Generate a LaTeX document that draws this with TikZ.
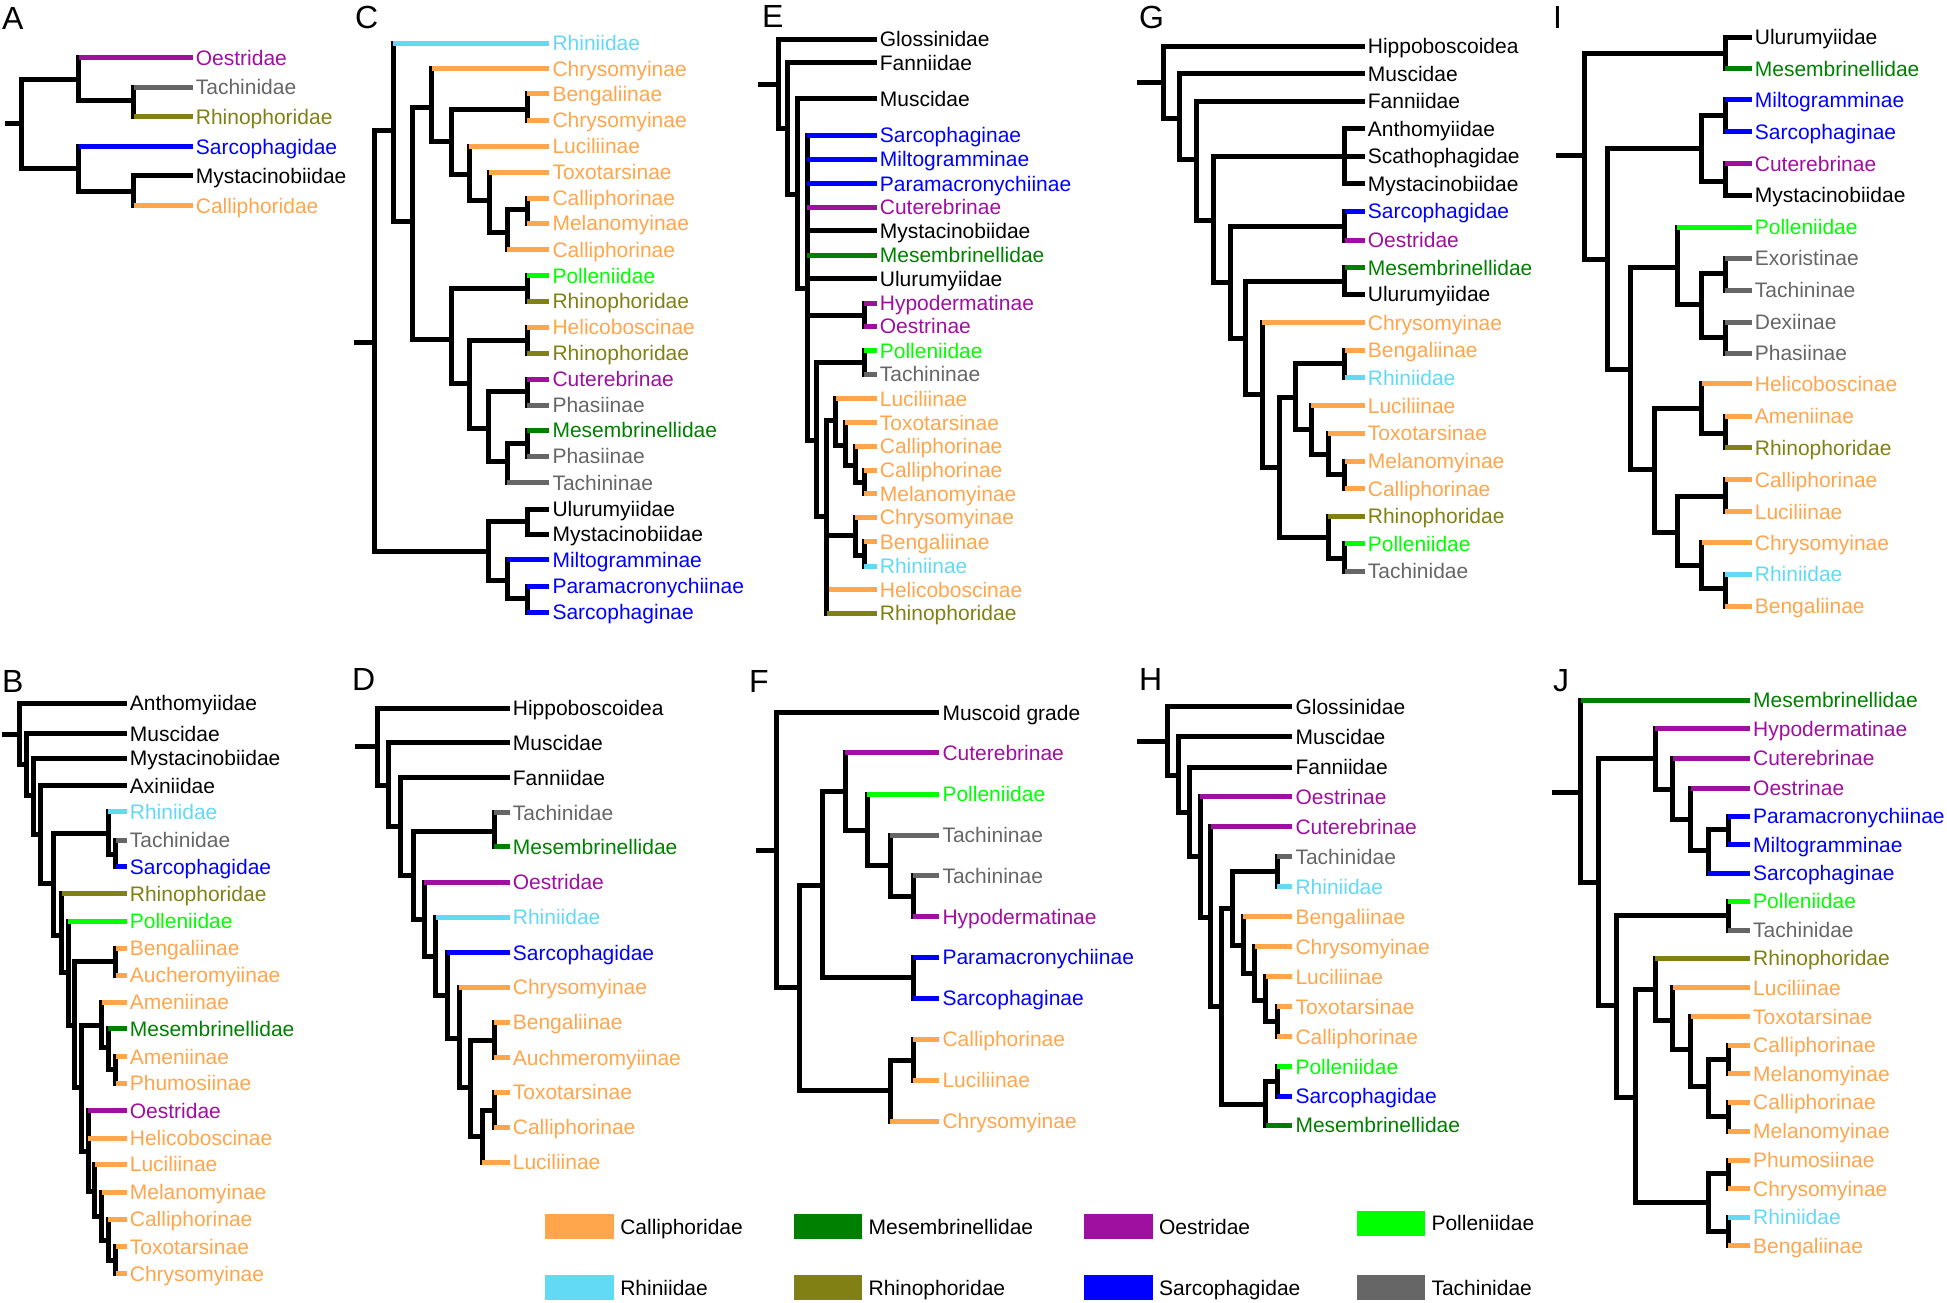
\documentclass[tikz,border=0pt]{standalone}
\usepackage{fontspec}
\setmainfont{Liberation Sans}
\definecolor{calli}{RGB}{255,166,77}
\definecolor{mesem}{RGB}{0,128,0}
\definecolor{oestr}{RGB}{160,16,160}
\definecolor{polle}{RGB}{0,255,0}
\definecolor{rhini}{RGB}{98,217,245}
\definecolor{rhino}{RGB}{128,128,21}
\definecolor{sarco}{RGB}{0,0,255}
\definecolor{tachi}{RGB}{102,102,102}
\tikzset{
  br/.style={line width=5pt, black},
  tip/.style={anchor=west, inner xsep=3pt, inner ysep=0pt, text height=15pt, text depth=0pt, font=\fontsize{21pt}{24pt}\selectfont},
  plabel/.style={anchor=base west, inner sep=0pt, font=\fontsize{32pt}{36pt}\selectfont},
  swatch/.style={draw=none, minimum width=68.6pt, minimum height=25pt, inner sep=0pt},
  legtext/.style={anchor=west, inner xsep=6pt, inner ysep=0pt, text height=15pt, text depth=0pt, font=\fontsize{21pt}{24pt}\selectfont}
}
\newcommand\leaf[6]{%
  \node[tip,text=#5] (#2) at (#3,#4) {#6};
  \draw[br] (#1) |- (#2.west);
  \draw[br,#5] (#1 |- #2.west) -- (#2.west);}
\newcommand\en[2]{\draw[br] (#1) |- (#2);}
\begin{document}
\begin{tikzpicture}
\useasboundingbox (0pt,0pt) rectangle (1947pt,-1303pt);
\fill[white] (0pt,0pt) rectangle (1947pt,-1303pt);

% panel letters
\node[plabel] (LA) at (2pt,-30pt) {A};
\node[plabel] (LC) at (355pt,-29pt) {C};
\node[plabel] (LE) at (762pt,-28pt) {E};
\node[plabel] (LG) at (1139pt,-29pt) {G};
\node[plabel] (LI) at (1553pt,-29pt) {I};
\node[plabel] (LB) at (2pt,-692pt) {B};
\node[plabel] (LD) at (352pt,-690pt) {D};
\node[plabel] (LF) at (749pt,-692pt) {F};
\node[plabel] (LH) at (1139pt,-690pt) {H};
\node[plabel] (LJ) at (1553pt,-691pt) {J};

% ---------------- A
\begin{scope}[shift={(0pt,0pt)},x=0.33333pt,y=-0.33333pt]
\coordinate (aS) at (15,372);
\coordinate (aR) at (65,372);
\coordinate (aN1) at (237,238);
\coordinate (aN1a) at (402,303);
\coordinate (aN2) at (237,505);
\coordinate (aN2a) at (402,575);
\draw[br] (aS) -- (aR);
\en{aR}{aN1}\en{aR}{aN2}\en{aN1}{aN1a}\en{aN2}{aN2a}
\leaf{aN1}{a1}{578}{173}{oestr}{Oestridae}
\leaf{aN1a}{a2}{578}{262}{tachi}{Tachinidae}
\leaf{aN1a}{a3}{578}{350}{rhino}{Rhinophoridae}
\leaf{aN2}{a4}{578}{440}{sarco}{Sarcophagidae}
\leaf{aN2a}{a5}{578}{528}{black}{Mystacinobiidae}
\leaf{aN2a}{a6}{578}{618}{calli}{Calliphoridae}
\end{scope}

% ---------------- C
\begin{scope}[shift={(350pt,-20pt)},x=0.33333pt,y=-0.38903pt]
\coordinate (cS) at (12,828);
\coordinate (cR) at (72,828);
\coordinate (cN1) at (130,285);
\coordinate (cN2) at (188,518);
\coordinate (cN3) at (245,225);
\coordinate (cN4) at (303,312);
\coordinate (cN5) at (532,230);
\coordinate (cN6) at (358,398);
\coordinate (cN7) at (418,465);
\coordinate (cN8) at (472,545);
\coordinate (cN8a) at (532,488);
\coordinate (cN9) at (303,820);
\coordinate (cN10) at (532,690);
\coordinate (cN11) at (358,935);
\coordinate (cN12) at (532,823);
\coordinate (cN13) at (415,1050);
\coordinate (cN14) at (532,955);
\coordinate (cN15) at (472,1135);
\coordinate (cN16) at (532,1088);
\coordinate (cNL) at (415,1365);
\coordinate (cN17) at (532,1290);
\coordinate (cN18) at (472,1440);
\coordinate (cN19) at (532,1488);
\draw[br] (cS) -- (cR);
\en{cR}{cN1}\en{cR}{cNL}\en{cN1}{cN2}\en{cN2}{cN3}\en{cN2}{cN9}\en{cN3}{cN4}
\en{cN4}{cN5}\en{cN4}{cN6}\en{cN6}{cN7}\en{cN7}{cN8}\en{cN8}{cN8a}
\en{cN9}{cN10}\en{cN9}{cN11}\en{cN11}{cN12}\en{cN11}{cN13}\en{cN13}{cN14}
\en{cN13}{cN15}\en{cN15}{cN16}\en{cNL}{cN17}\en{cNL}{cN18}\en{cN18}{cN19}
\leaf{cN1}{c1}{598}{60}{rhini}{Rhiniidae}
\leaf{cN3}{c2}{598}{125}{calli}{Chrysomyinae}
\leaf{cN5}{c3}{598}{190}{calli}{Bengaliinae}
\leaf{cN5}{c4}{598}{258}{calli}{Chrysomyinae}
\leaf{cN6}{c5}{598}{325}{calli}{Luciliinae}
\leaf{cN7}{c6}{598}{392}{calli}{Toxotarsinae}
\leaf{cN8a}{c7}{598}{458}{calli}{Calliphorinae}
\leaf{cN8a}{c8}{598}{522}{calli}{Melanomyinae}
\leaf{cN8}{c9}{598}{590}{calli}{Calliphorinae}
\leaf{cN10}{c10}{598}{657}{polle}{Polleniidae}
\leaf{cN10}{c11}{598}{723}{rhino}{Rhinophoridae}
\leaf{cN12}{c12}{598}{790}{calli}{Helicoboscinae}
\leaf{cN12}{c13}{598}{857}{rhino}{Rhinophoridae}
\leaf{cN14}{c14}{598}{923}{oestr}{Cuterebrinae}
\leaf{cN14}{c15}{598}{990}{tachi}{Phasiinae}
\leaf{cN16}{c16}{598}{1055}{mesem}{Mesembrinellidae}
\leaf{cN16}{c17}{598}{1122}{tachi}{Phasiinae}
\leaf{cN15}{c18}{598}{1190}{tachi}{Tachininae}
\leaf{cN17}{c19}{598}{1257}{black}{Ulurumyiidae}
\leaf{cN17}{c20}{598}{1322}{black}{Mystacinobiidae}
\leaf{cN18}{c21}{598}{1388}{sarco}{Miltogramminae}
\leaf{cN19}{c22}{598}{1455}{sarco}{Paramacronychiinae}
\leaf{cN19}{c23}{598}{1522}{sarco}{Sarcophaginae}
\end{scope}

% ---------------- E
\begin{scope}[shift={(745pt,-15pt)},x=0.33333pt,y=-0.39031pt]
\coordinate (eS) at (38,178);
\coordinate (eR) at (100,178);
\coordinate (eN1) at (128,292);
\coordinate (eN2) at (158,460);
\coordinate (eN3) at (187,700);
\coordinate (eN4) at (358,770);
\coordinate (eN5) at (215,1090);
\coordinate (eN6) at (358,890);
\coordinate (eN7) at (245,1285);
\coordinate (eN8) at (272,1040);
\coordinate (eN9) at (300,1103);
\coordinate (eN10) at (330,1155);
\coordinate (eN11) at (358,1198);
\coordinate (eN12) at (330,1333);
\coordinate (eN13) at (358,1385);
\draw[br] (eS) -- (eR);
\en{eR}{eN1}\en{eN1}{eN2}\en{eN2}{eN3}\en{eN3}{eN4}\en{eN3}{eN5}\en{eN5}{eN6}
\en{eN5}{eN7}\en{eN7}{eN8}\en{eN8}{eN9}\en{eN9}{eN10}\en{eN10}{eN11}\en{eN7}{eN12}\en{eN12}{eN13}
\leaf{eR}{e1}{395}{62}{black}{Glossinidae}
\leaf{eN1}{e2}{395}{122}{black}{Fanniidae}
\leaf{eN2}{e3}{395}{215}{black}{Muscidae}
\leaf{eN3}{e4}{395}{308}{sarco}{Sarcophaginae}
\leaf{eN3}{e5}{395}{370}{sarco}{Miltogramminae}
\leaf{eN3}{e6}{395}{432}{sarco}{Paramacronychiinae}
\leaf{eN3}{e7}{395}{492}{oestr}{Cuterebrinae}
\leaf{eN3}{e8}{395}{553}{black}{Mystacinobiidae}
\leaf{eN3}{e9}{395}{615}{mesem}{Mesembrinellidae}
\leaf{eN3}{e10}{395}{676}{black}{Ulurumyiidae}
\leaf{eN4}{e11}{395}{738}{oestr}{Hypodermatinae}
\leaf{eN4}{e12}{395}{798}{oestr}{Oestrinae}
\leaf{eN6}{e13}{395}{860}{polle}{Polleniidae}
\leaf{eN6}{e14}{395}{920}{tachi}{Tachininae}
\leaf{eN8}{e15}{395}{983}{calli}{Luciliinae}
\leaf{eN9}{e16}{395}{1045}{calli}{Toxotarsinae}
\leaf{eN10}{e17}{395}{1105}{calli}{Calliphorinae}
\leaf{eN11}{e18}{395}{1166}{calli}{Calliphorinae}
\leaf{eN11}{e19}{395}{1227}{calli}{Melanomyinae}
\leaf{eN12}{e20}{395}{1287}{calli}{Chrysomyinae}
\leaf{eN13}{e21}{395}{1350}{calli}{Bengaliinae}
\leaf{eN13}{e22}{395}{1412}{rhini}{Rhiniinae}
\leaf{eN7}{e23}{395}{1473}{calli}{Helicoboscinae}
\leaf{eN7}{e24}{395}{1533}{rhino}{Rhinophoridae}
\end{scope}

% ---------------- G
\begin{scope}[shift={(1124pt,-20pt)},x=0.33333pt,y=-0.36671pt]
\coordinate (gS) at (40,170);
\coordinate (gR) at (118,170);
\coordinate (gN1) at (167,268);
\coordinate (gN2) at (218,380);
\coordinate (gN3) at (268,548);
\coordinate (gN4) at (662,373);
\coordinate (gN5) at (318,715);
\coordinate (gN6) at (662,562);
\coordinate (gN7) at (365,868);
\coordinate (gN8) at (662,712);
\coordinate (gN9) at (415,1022);
\coordinate (gN10) at (465,1220);
\coordinate (gN11) at (515,1030);
\coordinate (gN12) at (662,938);
\coordinate (gN13) at (562,1118);
\coordinate (gN14) at (612,1185);
\coordinate (gN15) at (662,1240);
\coordinate (gN16) at (612,1410);
\coordinate (gN17) at (662,1468);
\draw[br] (gS) -- (gR);
\en{gR}{gN1}\en{gN1}{gN2}\en{gN2}{gN3}\en{gN3}{gN4}\en{gN3}{gN5}\en{gN5}{gN6}
\en{gN5}{gN7}\en{gN7}{gN8}\en{gN7}{gN9}\en{gN9}{gN10}\en{gN10}{gN11}\en{gN10}{gN16}
\en{gN11}{gN12}\en{gN11}{gN13}\en{gN13}{gN14}\en{gN14}{gN15}\en{gN16}{gN17}
\leaf{gR}{g1}{722}{72}{black}{Hippoboscoidea}
\leaf{gN1}{g2}{722}{147}{black}{Muscidae}
\leaf{gN2}{g3}{722}{222}{black}{Fanniidae}
\leaf{gN4}{g4}{722}{297}{black}{Anthomyiidae}
\leaf{gN4}{g5}{722}{372}{black}{Scathophagidae}
\leaf{gN4}{g6}{722}{447}{black}{Mystacinobiidae}
\leaf{gN6}{g7}{722}{522}{sarco}{Sarcophagidae}
\leaf{gN6}{g8}{722}{600}{oestr}{Oestridae}
\leaf{gN8}{g9}{722}{675}{mesem}{Mesembrinellidae}
\leaf{gN8}{g10}{722}{748}{black}{Ulurumyiidae}
\leaf{gN9}{g11}{722}{825}{calli}{Chrysomyinae}
\leaf{gN12}{g12}{722}{900}{calli}{Bengaliinae}
\leaf{gN12}{g13}{722}{975}{rhini}{Rhiniidae}
\leaf{gN13}{g14}{722}{1052}{calli}{Luciliinae}
\leaf{gN14}{g15}{722}{1127}{calli}{Toxotarsinae}
\leaf{gN15}{g16}{722}{1203}{calli}{Melanomyinae}
\leaf{gN15}{g17}{722}{1278}{calli}{Calliphorinae}
\leaf{gN16}{g18}{722}{1353}{rhino}{Rhinophoridae}
\leaf{gN17}{g19}{722}{1428}{polle}{Polleniidae}
\leaf{gN17}{g20}{722}{1503}{tachi}{Tachinidae}
\end{scope}

% ---------------- I
\begin{scope}[shift={(1540pt,-15pt)},x=0.33333pt,y=-0.38903pt]
\coordinate (iS) at (48,362);
\coordinate (iR) at (132,362);
\coordinate (iN1) at (555,98);
\coordinate (iN2) at (203,628);
\coordinate (iN3) at (485,343);
\coordinate (iN4) at (555,258);
\coordinate (iN5) at (555,428);
\coordinate (iN6) at (272,910);
\coordinate (iN7) at (412,648);
\coordinate (iN8) at (485,745);
\coordinate (iN9a) at (555,665);
\coordinate (iN9b) at (555,830);
\coordinate (iN10) at (343,1168);
\coordinate (iN11) at (485,1012);
\coordinate (iN12) at (555,1075);
\coordinate (iN13) at (412,1330);
\coordinate (iN14) at (555,1238);
\coordinate (iN15) at (485,1415);
\coordinate (iN16) at (555,1475);
\draw[br] (iS) -- (iR);
\en{iR}{iN1}\en{iR}{iN2}\en{iN2}{iN3}\en{iN2}{iN6}\en{iN3}{iN4}\en{iN3}{iN5}
\en{iN6}{iN7}\en{iN6}{iN10}\en{iN7}{iN8}\en{iN8}{iN9a}\en{iN8}{iN9b}
\en{iN10}{iN11}\en{iN10}{iN13}\en{iN11}{iN12}\en{iN13}{iN14}\en{iN13}{iN15}\en{iN15}{iN16}
\leaf{iN1}{i1}{635}{57}{black}{Ulurumyiidae}
\leaf{iN1}{i2}{635}{138}{mesem}{Mesembrinellidae}
\leaf{iN4}{i3}{635}{218}{sarco}{Miltogramminae}
\leaf{iN4}{i4}{635}{300}{sarco}{Sarcophaginae}
\leaf{iN5}{i5}{635}{382}{oestr}{Cuterebrinae}
\leaf{iN5}{i6}{635}{463}{black}{Mystacinobiidae}
\leaf{iN7}{i7}{635}{545}{polle}{Polleniidae}
\leaf{iN9a}{i8}{635}{625}{tachi}{Exoristinae}
\leaf{iN9a}{i9}{635}{708}{tachi}{Tachininae}
\leaf{iN9b}{i10}{635}{790}{tachi}{Dexiinae}
\leaf{iN9b}{i11}{635}{870}{tachi}{Phasiinae}
\leaf{iN11}{i12}{635}{948}{calli}{Helicoboscinae}
\leaf{iN12}{i13}{635}{1032}{calli}{Ameniinae}
\leaf{iN12}{i14}{635}{1112}{rhino}{Rhinophoridae}
\leaf{iN14}{i15}{635}{1195}{calli}{Calliphorinae}
\leaf{iN14}{i16}{635}{1277}{calli}{Luciliinae}
\leaf{iN15}{i17}{635}{1357}{calli}{Chrysomyinae}
\leaf{iN16}{i18}{635}{1438}{rhini}{Rhiniidae}
\leaf{iN16}{i19}{635}{1520}{calli}{Bengaliinae}
\end{scope}

% ---------------- B
\begin{scope}[shift={(0pt,-660pt)},x=0.33333pt,y=-0.40179pt]
\coordinate (bS) at (5,185);
\coordinate (bR) at (60,185);
\coordinate (bN1) at (80,260);
\coordinate (bN2) at (100,338);
\coordinate (bN3) at (122,435);
\coordinate (bN4) at (162,555);
\coordinate (bN5) at (325,432);
\coordinate (bN6) at (347,485);
\coordinate (bN7) at (185,685);
\coordinate (bN8) at (205,778);
\coordinate (bN9) at (225,910);
\coordinate (bN10) at (347,750);
\coordinate (bN11) at (245,1065);
\coordinate (bN12) at (305,910);
\coordinate (bN13) at (325,965);
\coordinate (bN14) at (347,1020);
\coordinate (bN15) at (265,1222);
\coordinate (bN16) at (285,1322);
\coordinate (bN17) at (305,1385);
\coordinate (bN18) at (325,1445);
\coordinate (bN19) at (347,1495);
\draw[br] (bS) -- (bR);
\en{bR}{bN1}\en{bN1}{bN2}\en{bN2}{bN3}\en{bN3}{bN4}\en{bN4}{bN5}\en{bN4}{bN7}
\en{bN5}{bN6}\en{bN7}{bN8}\en{bN8}{bN9}\en{bN9}{bN10}\en{bN9}{bN11}\en{bN11}{bN12}
\en{bN11}{bN15}\en{bN12}{bN13}\en{bN13}{bN14}\en{bN15}{bN16}\en{bN16}{bN17}
\en{bN17}{bN18}\en{bN18}{bN19}
\leaf{bR}{b1}{380}{108}{black}{Anthomyiidae}
\leaf{bN1}{b2}{380}{183}{black}{Muscidae}
\leaf{bN2}{b3}{380}{245}{black}{Mystacinobiidae}
\leaf{bN3}{b4}{380}{313}{black}{Axiniidae}
\leaf{bN5}{b5}{380}{378}{rhini}{Rhiniidae}
\leaf{bN6}{b6}{380}{448}{tachi}{Tachinidae}
\leaf{bN6}{b7}{380}{515}{sarco}{Sarcophagidae}
\leaf{bN7}{b8}{380}{582}{rhino}{Rhinophoridae}
\leaf{bN8}{b9}{380}{650}{polle}{Polleniidae}
\leaf{bN10}{b10}{380}{717}{calli}{Bengaliinae}
\leaf{bN10}{b11}{380}{785}{calli}{Aucheromyiinae}
\leaf{bN12}{b12}{380}{852}{calli}{Ameniinae}
\leaf{bN13}{b13}{380}{918}{mesem}{Mesembrinellidae}
\leaf{bN14}{b14}{380}{988}{calli}{Ameniinae}
\leaf{bN14}{b15}{380}{1053}{calli}{Phumosiinae}
\leaf{bN15}{b16}{380}{1122}{oestr}{Oestridae}
\leaf{bN15}{b17}{380}{1190}{calli}{Helicoboscinae}
\leaf{bN16}{b18}{380}{1255}{calli}{Luciliinae}
\leaf{bN17}{b19}{380}{1325}{calli}{Melanomyinae}
\leaf{bN18}{b20}{380}{1392}{calli}{Calliphorinae}
\leaf{bN19}{b21}{380}{1460}{calli}{Toxotarsinae}
\leaf{bN19}{b22}{380}{1527}{calli}{Chrysomyinae}
\end{scope}

% ---------------- D
\begin{scope}[shift={(348pt,-680pt)},x=0.33333pt,y=-0.33333pt]
\coordinate (dS) at (20,200);
\coordinate (dR) at (88,200);
\coordinate (dN1) at (122,315);
\coordinate (dN2) at (157,440);
\coordinate (dN3) at (195,585);
\coordinate (dN4) at (438,455);
\coordinate (dN5) at (228,718);
\coordinate (dN6) at (263,828);
\coordinate (dN7) at (297,945);
\coordinate (dN8) at (333,1075);
\coordinate (dN9) at (367,1222);
\coordinate (dN10) at (438,1080);
\coordinate (dN11) at (403,1368);
\coordinate (dN12) at (438,1290);
\draw[br] (dS) -- (dR);
\en{dR}{dN1}\en{dN1}{dN2}\en{dN2}{dN3}\en{dN3}{dN4}\en{dN3}{dN5}\en{dN5}{dN6}
\en{dN6}{dN7}\en{dN7}{dN8}\en{dN8}{dN9}\en{dN9}{dN10}\en{dN9}{dN11}\en{dN11}{dN12}
\leaf{dR}{d1}{485}{85}{black}{Hippoboscoidea}
\leaf{dN1}{d2}{485}{188}{black}{Muscidae}
\leaf{dN2}{d3}{485}{293}{black}{Fanniidae}
\leaf{dN4}{d4}{485}{398}{tachi}{Tachinidae}
\leaf{dN4}{d5}{485}{500}{mesem}{Mesembrinellidae}
\leaf{dN5}{d6}{485}{607}{oestr}{Oestridae}
\leaf{dN6}{d7}{485}{712}{rhini}{Rhiniidae}
\leaf{dN7}{d8}{485}{818}{sarco}{Sarcophagidae}
\leaf{dN8}{d9}{485}{922}{calli}{Chrysomyinae}
\leaf{dN10}{d10}{485}{1027}{calli}{Bengaliinae}
\leaf{dN10}{d11}{485}{1133}{calli}{Auchmeromyiinae}
\leaf{dN12}{d12}{485}{1237}{calli}{Toxotarsinae}
\leaf{dN12}{d13}{485}{1342}{calli}{Calliphorinae}
\leaf{dN11}{d14}{485}{1447}{calli}{Luciliinae}
\end{scope}

% ---------------- F
\begin{scope}[shift={(740pt,-690pt)},x=0.33333pt,y=-0.33333pt]
\coordinate (fS) at (48,480);
\coordinate (fR) at (110,480);
\coordinate (fN1) at (178,892);
\coordinate (fN2) at (248,585);
\coordinate (fN3) at (315,305);
\coordinate (fN4) at (382,420);
\coordinate (fN5) at (450,525);
\coordinate (fN5b) at (520,620);
\coordinate (fN6) at (520,862);
\coordinate (fN7) at (450,1200);
\coordinate (fN8) at (520,1110);
\draw[br] (fS) -- (fR);
\en{fR}{fN1}\en{fN1}{fN2}\en{fN1}{fN7}\en{fN2}{fN3}\en{fN2}{fN6}\en{fN3}{fN4}
\en{fN4}{fN5}\en{fN5}{fN5b}\en{fN7}{fN8}
\leaf{fR}{f1}{598}{68}{black}{Muscoid grade}
\leaf{fN3}{f2}{598}{188}{oestr}{Cuterebrinae}
\leaf{fN4}{f3}{598}{313}{polle}{Polleniidae}
\leaf{fN5}{f4}{598}{435}{tachi}{Tachininae}
\leaf{fN5b}{f5}{598}{557}{tachi}{Tachininae}
\leaf{fN5b}{f6}{598}{680}{oestr}{Hypodermatinae}
\leaf{fN6}{f7}{598}{802}{sarco}{Paramacronychiinae}
\leaf{fN6}{f8}{598}{925}{sarco}{Sarcophaginae}
\leaf{fN8}{f9}{598}{1047}{calli}{Calliphorinae}
\leaf{fN8}{f10}{598}{1170}{calli}{Luciliinae}
\leaf{fN7}{f11}{598}{1293}{calli}{Chrysomyinae}
\end{scope}

% ---------------- H
\begin{scope}[shift={(1124pt,-680pt)},x=0.33333pt,y=-0.33333pt]
\coordinate (hS) at (38,183);
\coordinate (hR) at (130,183);
\coordinate (hN1) at (162,285);
\coordinate (hN2) at (195,398);
\coordinate (hN3) at (228,530);
\coordinate (hN4) at (260,712);
\coordinate (hN5) at (293,980);
\coordinate (hN6) at (325,685);
\coordinate (hN7) at (460,575);
\coordinate (hN8) at (358,795);
\coordinate (hN9) at (392,880);
\coordinate (hN10) at (425,960);
\coordinate (hN10b) at (460,1025);
\coordinate (hN11) at (425,1272);
\coordinate (hN12) at (460,1205);
\draw[br] (hS) -- (hR);
\en{hR}{hN1}\en{hN1}{hN2}\en{hN2}{hN3}\en{hN3}{hN4}\en{hN4}{hN5}\en{hN5}{hN6}
\en{hN5}{hN11}\en{hN6}{hN7}\en{hN6}{hN8}\en{hN8}{hN9}\en{hN9}{hN10}\en{hN10}{hN10b}\en{hN11}{hN12}
\leaf{hR}{h1}{505}{80}{black}{Glossinidae}
\leaf{hN1}{h2}{505}{170}{black}{Muscidae}
\leaf{hN2}{h3}{505}{262}{black}{Fanniidae}
\leaf{hN3}{h4}{505}{350}{oestr}{Oestrinae}
\leaf{hN4}{h5}{505}{440}{oestr}{Cuterebrinae}
\leaf{hN7}{h6}{505}{530}{tachi}{Tachinidae}
\leaf{hN7}{h7}{505}{620}{rhini}{Rhiniidae}
\leaf{hN8}{h8}{505}{710}{calli}{Bengaliinae}
\leaf{hN9}{h9}{505}{800}{calli}{Chrysomyinae}
\leaf{hN10}{h10}{505}{890}{calli}{Luciliinae}
\leaf{hN10b}{h11}{505}{980}{calli}{Toxotarsinae}
\leaf{hN10b}{h12}{505}{1070}{calli}{Calliphorinae}
\leaf{hN12}{h13}{505}{1160}{polle}{Polleniidae}
\leaf{hN12}{h14}{505}{1248}{sarco}{Sarcophagidae}
\leaf{hN11}{h15}{505}{1335}{mesem}{Mesembrinellidae}
\end{scope}

% ---------------- J
\begin{scope}[shift={(1560pt,-680pt)},x=0.33333pt,y=-0.36990pt]
\coordinate (jS) at (-25,303);
\coordinate (jR) at (62,303);
\coordinate (jN1) at (115,548);
\coordinate (jN2) at (285,212);
\coordinate (jN3) at (338,295);
\coordinate (jN4) at (392,378);
\coordinate (jN5) at (445,462);
\coordinate (jN5a) at (505,405);
\coordinate (jN6) at (170,880);
\coordinate (jN7) at (505,637);
\coordinate (jN8) at (225,1128);
\coordinate (jN9) at (285,838);
\coordinate (jN10) at (338,920);
\coordinate (jN11) at (392,1000);
\coordinate (jN12) at (445,1100);
\coordinate (jN12a) at (505,1025);
\coordinate (jN12b) at (505,1180);
\coordinate (jN13) at (445,1412);
\coordinate (jN14) at (505,1335);
\coordinate (jN15) at (505,1490);
\draw[br] (jS) -- (jR);
\en{jR}{jN1}\en{jN1}{jN2}\en{jN1}{jN6}\en{jN2}{jN3}\en{jN3}{jN4}\en{jN4}{jN5}\en{jN5}{jN5a}
\en{jN6}{jN7}\en{jN6}{jN8}\en{jN8}{jN9}\en{jN8}{jN13}\en{jN9}{jN10}\en{jN10}{jN11}
\en{jN11}{jN12}\en{jN12}{jN12a}\en{jN12}{jN12b}\en{jN13}{jN14}\en{jN13}{jN15}
\leaf{jR}{j1}{570}{55}{mesem}{Mesembrinellidae}
\leaf{jN2}{j2}{570}{132}{oestr}{Hypodermatinae}
\leaf{jN3}{j3}{570}{212}{oestr}{Cuterebrinae}
\leaf{jN4}{j4}{570}{292}{oestr}{Oestrinae}
\leaf{jN5a}{j5}{570}{368}{sarco}{Paramacronychiinae}
\leaf{jN5a}{j6}{570}{445}{sarco}{Miltogramminae}
\leaf{jN5}{j7}{570}{522}{sarco}{Sarcophaginae}
\leaf{jN7}{j8}{570}{598}{polle}{Polleniidae}
\leaf{jN7}{j9}{570}{677}{tachi}{Tachinidae}
\leaf{jN9}{j10}{570}{752}{rhino}{Rhinophoridae}
\leaf{jN10}{j11}{570}{832}{calli}{Luciliinae}
\leaf{jN11}{j12}{570}{910}{calli}{Toxotarsinae}
\leaf{jN12a}{j13}{570}{987}{calli}{Calliphorinae}
\leaf{jN12a}{j14}{570}{1065}{calli}{Melanomyinae}
\leaf{jN12b}{j15}{570}{1142}{calli}{Calliphorinae}
\leaf{jN12b}{j16}{570}{1220}{calli}{Melanomyinae}
\leaf{jN14}{j17}{570}{1298}{calli}{Phumosiinae}
\leaf{jN14}{j18}{570}{1375}{calli}{Chrysomyinae}
\leaf{jN15}{j19}{570}{1452}{rhini}{Rhiniidae}
\leaf{jN15}{j20}{570}{1530}{calli}{Bengaliinae}
\end{scope}

% ---------------- legend
\node[swatch,fill=calli] (k1) at (579.6pt,-1226.7pt) {};
\node[legtext] (t1) at (k1.east) {Calliphoridae};
\node[swatch,fill=mesem] (k2) at (827.9pt,-1226.7pt) {};
\node[legtext] (t2) at (k2.east) {Mesembrinellidae};
\node[swatch,fill=oestr] (k3) at (1118.4pt,-1226.7pt) {};
\node[legtext] (t3) at (k3.east) {Oestridae};
\node[swatch,fill=polle] (k4) at (1390.8pt,-1223.3pt) {};
\node[legtext] (t4) at (k4.east) {Polleniidae};
\node[swatch,fill=rhini] (k5) at (579.6pt,-1287.5pt) {};
\node[legtext] (t5) at (k5.east) {Rhiniidae};
\node[swatch,fill=rhino] (k6) at (827.9pt,-1287.5pt) {};
\node[legtext] (t6) at (k6.east) {Rhinophoridae};
\node[swatch,fill=sarco] (k7) at (1118.4pt,-1287.5pt) {};
\node[legtext] (t7) at (k7.east) {Sarcophagidae};
\node[swatch,fill=tachi] (k8) at (1390.8pt,-1287.5pt) {};
\node[legtext] (t8) at (k8.east) {Tachinidae};
\end{tikzpicture}
\end{document}
